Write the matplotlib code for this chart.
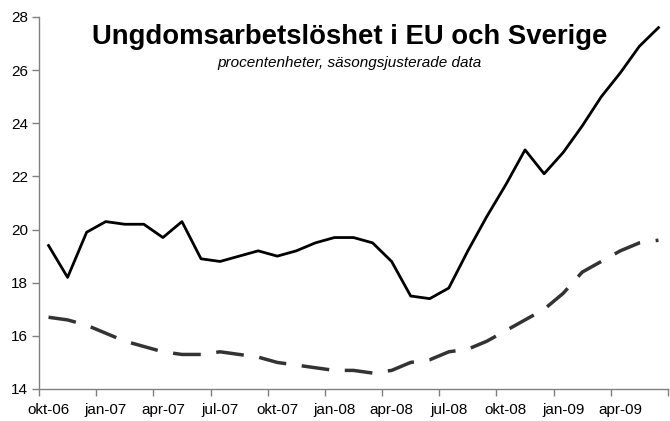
import matplotlib
matplotlib.use("Agg")
import matplotlib.pyplot as plt
import numpy as np

plt.rcParams['font.family'] = ['Liberation Sans', 'DejaVu Sans']

# monthly, okt-06 .. jun-09
months = ['okt-06', 'nov-06', 'dec-06', 'jan-07', 'feb-07', 'mar-07', 'apr-07', 'maj-07',
          'jun-07', 'jul-07', 'aug-07', 'sep-07', 'okt-07', 'nov-07', 'dec-07', 'jan-08',
          'feb-08', 'mar-08', 'apr-08', 'maj-08', 'jun-08', 'jul-08', 'aug-08', 'sep-08',
          'okt-08', 'nov-08', 'dec-08', 'jan-09', 'feb-09', 'mar-09', 'apr-09', 'maj-09',
          'jun-09']
sverige = [19.4, 18.2, 19.9, 20.3, 20.2, 20.2, 19.7, 20.3, 18.9, 18.8, 19.0, 19.2, 19.0,
           19.2, 19.5, 19.7, 19.7, 19.5, 18.8, 17.5, 17.4, 17.8, 19.2, 20.5, 21.7, 23.0,
           22.1, 22.9, 23.9, 25.0, 25.9, 26.9, 27.6]
eu = [16.7, 16.6, 16.4, 16.1, 15.8, 15.6, 15.4, 15.3, 15.3, 15.4, 15.3, 15.2, 15.0,
      14.9, 14.8, 14.7, 14.7, 14.6, 14.7, 15.0, 15.1, 15.4, 15.5, 15.8, 16.2, 16.6,
      17.0, 17.6, 18.4, 18.8, 19.2, 19.5, 19.6]

x = np.arange(len(months))

fig = plt.figure(figsize=(6.7, 4.21), dpi=100)
ax = fig.add_axes([39 / 670, 32 / 421, 629 / 670, 372 / 421])

ax.plot(x, sverige, color='black', linewidth=2)
ax.plot(x, eu, color='#333333', linewidth=2.5, dashes=(8, 4.5))

ax.set_xlim(-0.5, len(months) - 0.5)
ax.set_ylim(14, 28)
ax.set_yticks(np.arange(14, 29, 2))

# labels at category centres, ticks between categories
ax.set_xticks(x[::3])
ax.set_xticklabels(months[::3])
ax.set_xticks(np.arange(-0.5, len(months), 3), minor=True)
ax.tick_params(axis='x', which='major', length=0, pad=10, labelsize=11)
ax.tick_params(axis='x', which='minor', length=5, width=1, color='#808080', direction='out')
ax.tick_params(axis='y', length=5, width=1, color='#808080', labelsize=11, pad=3)

for s in ['top', 'right']:
    ax.spines[s].set_visible(False)
for s in ['left', 'bottom']:
    ax.spines[s].set_color('#808080')
    ax.spines[s].set_linewidth(1)

fig.text(0.522, 0.912, 'Ungdomsarbetslöshet i EU och Sverige', ha='center', va='center',
         fontsize=19.8, fontweight='bold')
fig.text(0.521, 0.851, 'procentenheter, säsongsjusterade data', ha='center', va='center',
         fontsize=11, style='italic')

fig.savefig('out.png', dpi=100)
